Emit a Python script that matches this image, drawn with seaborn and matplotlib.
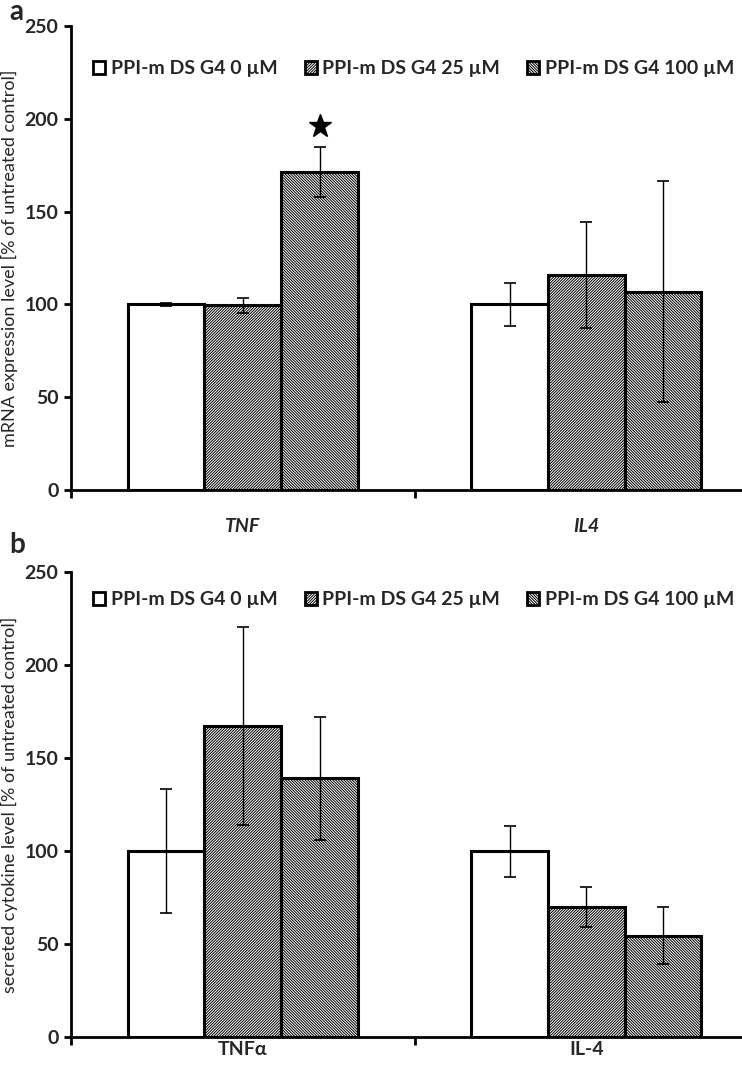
import numpy as np
import pandas as pd
import seaborn as sns
import matplotlib.pyplot as plt
from matplotlib.patches import Patch

# data
doses = ["PPI-m DS G4 0 \u00b5M", "PPI-m DS G4 25 \u00b5M", "PPI-m DS G4 100 \u00b5M"]

# panel a: mRNA expression
mrna_genes = ["TNF", "IL4"]
mrna_tnf = [100, 99.5, 171.4]
mrna_tnf_err = [0.8, 4.0, 13.4]
mrna_il4 = [100, 115.8, 106.9]
mrna_il4_err = [11.6, 28.4, 59.5]
star_value = 196

# panel b: secreted cytokines
cyto_names = ["TNF\u03b1", "IL-4"]
cyto_tnf = [100, 167.2, 139.2]
cyto_tnf_err = [33.4, 53.3, 33.0]
cyto_il4 = [100, 69.7, 54.5]
cyto_il4_err = [13.7, 10.8, 15.3]

hatches = ["", "/" * 12, "\\" * 12]

sns.set_theme(style="ticks")
plt.rcParams['font.family'] = ['Lato', 'DejaVu Sans']
plt.rcParams['hatch.linewidth'] = 0.7
plt.rcParams['hatch.color'] = 'black'


def make_df(names, first, second):
    rows = []
    for name, vals in zip(names, [first, second]):
        for d, v in zip(doses, vals):
            rows.append({'cat': name, 'dose': d, 'val': v})
    return pd.DataFrame(rows)


def draw_panel(ax, names, first, first_err, second, second_err, ylabel, italic, legend_y, xpad):
    df = make_df(names, first, second)
    sns.barplot(data=df, x='cat', y='val', hue='dose', order=names, hue_order=doses,
                palette=['white'] * 3, edgecolor='black', linewidth=2.2,
                width=0.67, errorbar=None, legend=False, ax=ax)
    errs = [[first_err[i], second_err[i]] for i in range(3)]
    bar_conts = list(ax.containers)
    for i, cont in enumerate(bar_conts):
        xs = []
        ys = []
        for p in cont:
            p.set_hatch(hatches[i])
            p.set_facecolor('white')
            xs.append(p.get_x() + p.get_width() / 2)
            ys.append(p.get_height())
        ax.errorbar(xs, ys, yerr=errs[i], fmt='none', ecolor='black',
                    elinewidth=1.0, capsize=4, capthick=1.2, zorder=5)
    ax.set_xlim(-0.5, 1.5)
    ax.set_ylim(0, 250)
    ax.set_yticks([0, 50, 100, 150, 200, 250])
    ax.set_xlabel('')
    ax.set_ylabel(ylabel, fontsize=13, labelpad=5)
    sns.despine(ax=ax)
    for s in ['left', 'bottom']:
        ax.spines[s].set_linewidth(2)
        ax.spines[s].set_color('black')
    ax.tick_params(axis='y', labelsize=14, width=2, length=5, pad=4, color='black')
    ax.tick_params(axis='x', which='major', length=0, labelsize=14, pad=xpad)
    ax.set_xticks([-0.5, 0.5, 1.5], minor=True)
    ax.tick_params(axis='x', which='minor', length=6, width=2, color='black')
    for lab in ax.get_yticklabels():
        lab.set_fontweight('bold')
    for lab in ax.get_xticklabels():
        lab.set_fontweight('bold')
        if italic:
            lab.set_fontstyle('italic')
    handles = [Patch(facecolor='white', edgecolor='black', hatch=h, linewidth=2) for h in hatches]
    ax.legend(handles, doses, loc='center', bbox_to_anchor=(0.499, legend_y), ncol=3,
              frameon=False, handlelength=0.6, handleheight=0.6, handletextpad=0.3,
              columnspacing=1.4, prop={'weight': 'bold', 'size': 14})
    return bar_conts


fig = plt.figure(figsize=(7.42, 10.72), dpi=100)
ax_a = fig.add_axes([0.0957, 0.5429, 0.926, 0.4328])
ax_b = fig.add_axes([0.0957, 0.0326, 0.926, 0.4338])

conts_a = draw_panel(ax_a, mrna_genes, mrna_tnf, mrna_tnf_err, mrna_il4, mrna_il4_err,
                     'mRNA expression level [% of untreated control]', True, 227 / 250, 20)
draw_panel(ax_b, cyto_names, cyto_tnf, cyto_tnf_err, cyto_il4, cyto_il4_err,
           'secreted cytokine level [% of untreated control]', False, 235 / 250, 3)

# significance star above TNF 100 uM bar
p = conts_a[2][0]
ax_a.plot(p.get_x() + p.get_width() / 2, star_value, marker='*', color='black',
          markersize=17, linestyle='none')

fig.text(0.013, 0.989, 'a', fontsize=20, fontweight='bold', va='center')
fig.text(0.013, 0.4916, 'b', fontsize=20, fontweight='bold', va='center')

fig.savefig('out.png', dpi=100)
